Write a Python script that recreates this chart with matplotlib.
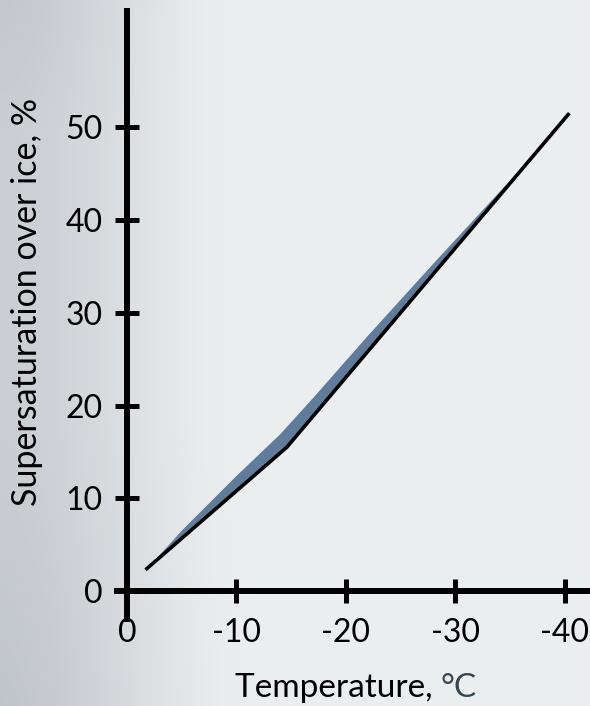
import numpy as np
import matplotlib
matplotlib.use("Agg")
import matplotlib.pyplot as plt

# ---- data ----
temp_ticks = [0, -10, -20, -30, -40]
temp_tick_labels = ["0", "-10", "-20", "-30", "-40"]
ss_ticks = [0, 10, 20, 30, 40, 50]
ss_tick_labels = ["0", "10", "20", "30", "40", "50"]

line_temp = [-1.7, -14.6, -40.4]
line_ss = [2.3, 15.5, 51.5]

band_temp = [-2.1, -5, -10, -14, -17, -22, -28, -33, -36]
band_ss = [2.7, 6.5, 12.4, 16.9, 20.8, 27.5, 35.3, 41.7, 45.5]

xlabel_main = "Temperature, "
xlabel_unit = "°C"
ylabel = "Supersaturation over ice, %"

# ---- figure ----
W, H, DPI = 590, 706, 100
plt.rcParams['font.family'] = ['Lato', 'DejaVu Sans']
fig = plt.figure(figsize=(W / DPI, H / DPI), dpi=DPI)

# background: soft grey gradient, darker on the left
bg = fig.add_axes([0, 0, 1, 1])
bg.axis('off')
yy, xx = np.mgrid[0:1:300j, 0:1:300j]
t = np.clip((xx - 0.0) / 0.42, 0, 1)
t = t * t * (3 - 2 * t)
dark_w = (1 - t) * 0.62
dark_w += np.clip((0.45 - xx) / 0.45, 0, 1) * np.clip((yy - 0.6) / 0.4, 0, 1) * 0.2
dark_w += np.clip((0.2 - yy) / 0.2, 0, 1) * np.clip((0.3 - xx) / 0.3, 0, 1) * 0.15
dark_w = np.clip(dark_w, 0, 1)
light = np.array([0.925, 0.935, 0.94])
dark = np.array([0.72, 0.74, 0.765])
img = light[None, None, :] * (1 - dark_w[..., None]) + dark[None, None, :] * dark_w[..., None]
bg.imshow(img, extent=[0, 1, 0, 1], aspect='auto', origin='upper', zorder=-10)
bg.set_xlim(0, 1)
bg.set_ylim(0, 1)

ax = fig.add_axes([117 / W, 87 / H, 471 / W, 608 / H])
ax.patch.set_alpha(0)
ax.set_xlim(0.9, -42.1)
ax.set_ylim(-3.0, 62.5)

for s in ['top', 'right']:
    ax.spines[s].set_visible(False)
for s in ['left', 'bottom']:
    ax.spines[s].set_position(('data', 0))
    ax.spines[s].set_linewidth(4.3)
    ax.spines[s].set_color('black')

ax.set_xticks(temp_ticks)
ax.set_xticklabels(temp_tick_labels)
ax.set_yticks(ss_ticks)
ax.set_yticklabels(ss_tick_labels)
ax.tick_params(direction='inout', length=17, width=3.6, labelsize=23,
               colors='black')
ax.tick_params(axis='x', pad=11)
ax.tick_params(axis='y', pad=9)

# band and line
poly_x = band_temp + [line_temp[1]]
poly_y = band_ss + [line_ss[1]]
ax.fill(poly_x, poly_y, color='#5f7c9b', lw=0, zorder=2)
ax.plot(line_temp, line_ss, color='black', lw=2.6, solid_capstyle='butt', zorder=3)

# labels
fig.text(27 / W, 1 - 302 / H, ylabel, rotation=90, ha='center', va='center',
         fontsize=24.5, color='black')

renderer = fig.canvas.get_renderer()
t1 = fig.text(0, 0, xlabel_main, fontsize=24, color='black', va='baseline', ha='left')
t2 = fig.text(0, 0, xlabel_unit, fontsize=24, color='#34454f', va='baseline', ha='left')
w1 = t1.get_window_extent(renderer).width
w2 = t2.get_window_extent(renderer).width
cx = 356
x0 = cx - (w1 + w2) / 2
base_y = H - 697
t1.set_position((x0 / W, base_y / H))
t2.set_position(((x0 + w1) / W, base_y / H))

fig.savefig('out.png', dpi=DPI)
